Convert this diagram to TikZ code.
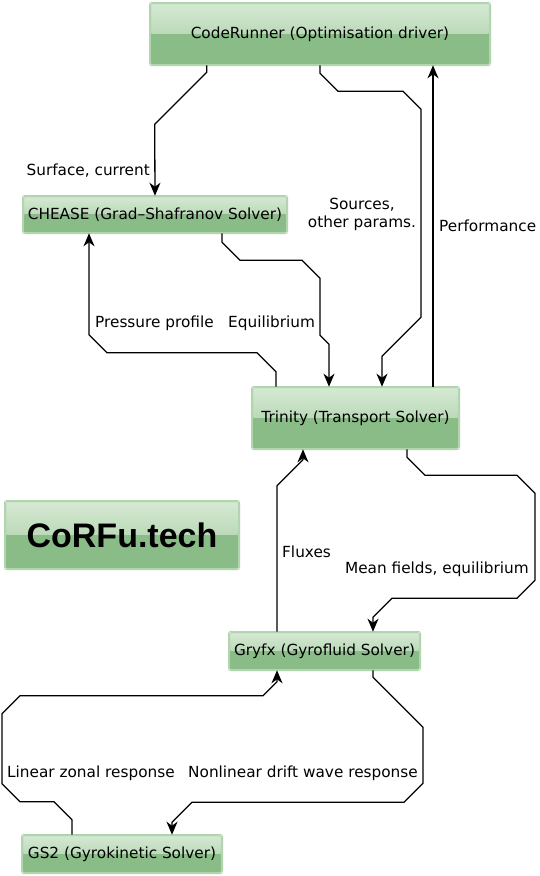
\documentclass[tikz,border=0pt]{standalone}
\usepackage{fontspec}
\setmainfont{DejaVu Sans}
\newfontfamily\logofont{Liberation Sans}
\usepackage{tikz}
\usetikzlibrary{arrows.meta,calc,positioning}
\definecolor{boxedge}{RGB}{158,200,155}
\definecolor{boxinner}{RGB}{216,235,214}
\definecolor{glosstop}{RGB}{214,233,212}
\definecolor{glossmid}{RGB}{160,203,157}
\definecolor{glossbot}{RGB}{137,188,134}

\begin{document}
\begin{tikzpicture}[x=1pt,y=-1pt,
  solver/.style={draw=boxedge,double=boxinner,double distance=0.8pt,line width=0.6pt,rounded corners=2pt,inner sep=0pt,font=\fontsize{15.3}{18}\selectfont,
    path picture={\fill[top color=glosstop,bottom color=glossmid] (path picture bounding box.north west) rectangle (path picture bounding box.east);
      \fill[glossbot] (path picture bounding box.west) rectangle (path picture bounding box.south east);}},
  lbl/.style={inner sep=0pt,font=\fontsize{15.3}{18}\selectfont},
  flow/.style={line width=1.3pt,-{Stealth[length=13pt,width=11pt,inset=4pt]}}]
  \useasboundingbox (0,0) rectangle (540,876);
  \node[solver,minimum width=340pt,minimum height=62pt] (code) at (320,34) {CodeRunner (Optimisation driver)};
  \node[solver,minimum width=264pt,minimum height=37pt] (chease) at (155,214.5) {CHEASE (Grad–Shafranov Solver)};
  \node[solver,minimum width=207pt,minimum height=62pt] (trinity) at (355.5,418) {Trinity (Transport Solver)};
  \node[solver,minimum width=234pt,minimum height=68pt,font=\logofont\bfseries\fontsize{34}{40}\selectfont] (corfu) at (122,535) {CoRFu.tech};
  \node[solver,minimum width=191pt,minimum height=38pt] (gryfx) at (324.5,651) {Gryfx (Gyrofluid Solver)};
  \node[solver,minimum width=200pt,minimum height=38pt] (gs2) at (122,854) {GS2 (Gyrokinetic Solver)};
  \draw[flow] ([xshift=57pt]code.south west) -- ++(0,7) -- ++(-52,52) -- (chease.north);
  \draw[flow] (code.south) -- ++(0,8) -- ++(18,18) -- ++(65,0) -- ++(18,18) -- ++(0,208) -- ++(-39,39) -- ([xshift=26.5pt]trinity.north);
  \draw[flow] ([xshift=77.5pt]trinity.north) -- ([xshift=113pt]code.south);
  \draw[flow] ([xshift=67pt]chease.south) -- ++(0,9) -- ++(18,18) -- ++(62,0) -- ++(18,18) -- ++(0,57) -- ++(9,9) -- ([xshift=-26.5pt]trinity.north);
  \draw[flow] ([xshift=-79.5pt]trinity.north) -- ++(0,-15) -- ++(-19,-19) -- ++(-150,0) -- ++(-18,-18) -- ([xshift=-66pt]chease.south);
  \draw[flow] ([xshift=-47.5pt]gryfx.north) -- ++(0,-146) -- ++(26,-26) -- ([xshift=-52.5pt]trinity.south);
  \draw[flow] ([xshift=51.5pt]trinity.south) -- ++(0,8) -- ++(18,18) -- ++(92,0) -- ++(18,18) -- ++(0,87) -- ++(-18,18) -- ++(-125,0) -- ++(-19,19) -- ([xshift=48.5pt]gryfx.north);
  \draw[flow] ([xshift=-50pt]gs2.north) -- ++(0,-15) -- ++(-18,-18) -- ++(-34,0) -- ++(-18,-18) -- ++(0,-70) -- ++(18,-18) -- ++(243,0) -- ++(14,-14) -- ([xshift=-47.5pt]gryfx.south);
  \draw[flow] ([xshift=48.5pt]gryfx.south) -- ++(0,7) -- ++(50,50) -- ++(0,56) -- ++(-19,19) -- ++(-212,0) -- ++(-20,20) -- ([xshift=50pt]gs2.north);
  \node[lbl,anchor=base east] (surf) at (150,175) {Surface, current};
  \node[lbl,align=center] (src) at (362,214) {Sources,\\other params.};
  \node[lbl,anchor=base west] (perf) at (439,231) {Performance};
  \node[lbl,anchor=base west] (press) at (95,327) {Pressure profile};
  \node[lbl,anchor=base west] (equil) at (228,327) {Equilibrium};
  \node[lbl,anchor=base west] (flux) at (282,557) {Fluxes};
  \node[lbl,anchor=base east] (mean) at (529,573) {Mean fields, equilibrium};
  \node[lbl,anchor=base west] (lin) at (7,777) {Linear zonal response};
  \node[lbl,anchor=base west] (nonlin) at (188,777) {Nonlinear drift wave response};
\end{tikzpicture}
\end{document}
